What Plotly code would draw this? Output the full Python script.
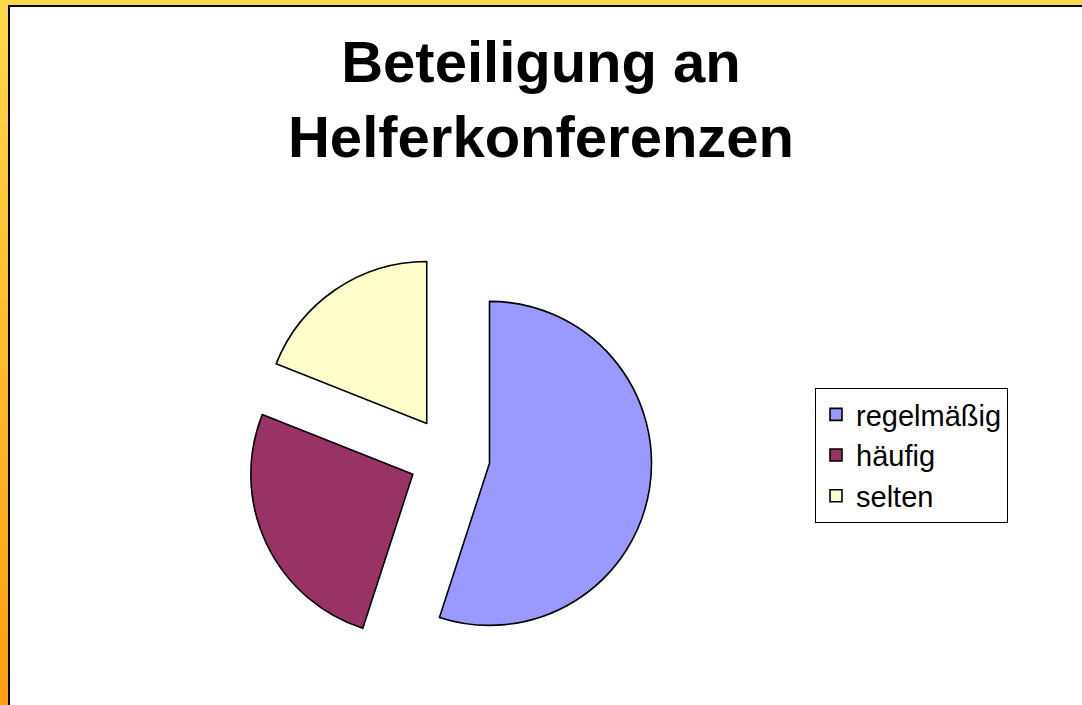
import plotly.graph_objects as go

# ---- data ----
labels = ["regelmäßig", "häufig", "selten"]
values = [55, 26, 19]
colors = ["#9999FF", "#993366", "#FFFFCC"]
title_lines = ["Beteiligung an", "Helferkonferenzen"]

W, H = 1082, 705
FONT = "Arial, Liberation Sans, sans-serif"

# pie geometry (pixels)
cx, cy, r, pull = 449.5, 457.0, 162.0, 0.25
half = r * (1 + pull)
dom_x = [(cx - half) / W, (cx + half) / W]
dom_y = [(H - (cy + half)) / H, (H - (cy - half)) / H]

fig = go.Figure(
    go.Pie(
        labels=labels,
        values=values,
        marker=dict(colors=colors, line=dict(color="black", width=1.6)),
        pull=[pull] * len(values),
        sort=False,
        direction="clockwise",
        rotation=0,
        textinfo="none",
        domain=dict(x=dom_x, y=dom_y),
    )
)

# frame decoration
shapes = []
top_c = (255, 216, 76)
bot_c = (255, 158, 16)
n = 80
for i in range(n):
    t = (i + 0.5) / n
    c = tuple(int(round(top_c[k] + (bot_c[k] - top_c[k]) * t)) for k in range(3))
    shapes.append(dict(type="rect", xref="paper", yref="paper",
                       x0=0, x1=8 / W, y0=1 - (i + 1) / n - 0.002, y1=1 - i / n,
                       fillcolor="rgb(%d,%d,%d)" % c, line=dict(width=0), layer="above"))
shapes.append(dict(type="rect", xref="paper", yref="paper",
                   x0=0, x1=1, y0=1 - 5 / H, y1=1,
                   fillcolor="rgb(255,216,76)", line=dict(width=0), layer="above"))
shapes.append(dict(type="rect", xref="paper", yref="paper",
                   x0=8 / W, x1=10 / W, y0=0, y1=1 - 5 / H,
                   fillcolor="black", line=dict(width=0), layer="above"))
shapes.append(dict(type="rect", xref="paper", yref="paper",
                   x0=8 / W, x1=1, y0=1 - 7 / H, y1=1 - 5 / H,
                   fillcolor="black", line=dict(width=0), layer="above"))

fig.update_layout(
    width=W, height=H,
    margin=dict(l=0, r=0, t=0, b=0),
    paper_bgcolor="white",
    plot_bgcolor="white",
    title=dict(
        text="<br>".join(title_lines),
        font=dict(family=FONT, size=58, color="black", weight="bold"),
        x=0.5, xanchor="center", xref="paper",
        y=1 - 82 / H, yanchor="top", yref="container",
    ),
    legend=dict(
        x=815 / W, y=(H - 388) / H, xanchor="left", yanchor="top",
        bordercolor="black", borderwidth=1, bgcolor="white",
        font=dict(family=FONT, size=29, color="black"),
    ),
    shapes=shapes,
    showlegend=True,
)

fig.write_html(
    "out.html",
    config={"displayModeBar": False},
    post_script="document.body.style.margin='0';document.body.style.overflow='hidden';",
)
